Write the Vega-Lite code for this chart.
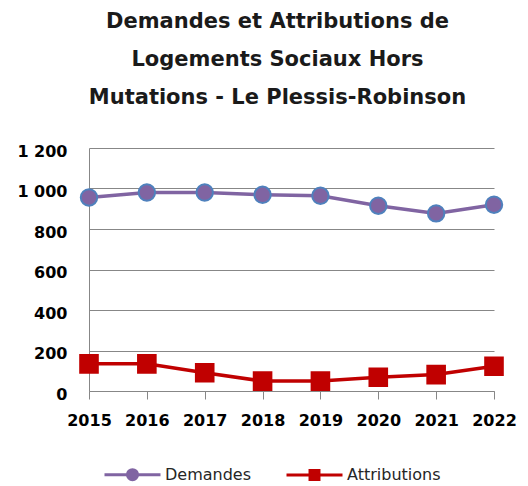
{
  "$schema": "https://vega.github.io/schema/vega-lite/v6.json",
  "width": 405,
  "height": 243,
  "autosize": {"type": "none"},
  "padding": {"left": 89, "top": 148, "right": 34, "bottom": 95},
  "background": "white",
  "title": {
    "text": ["Demandes et Attributions de", "Logements Sociaux Hors", "Mutations - Le Plessis-Robinson"],
    "font": "DejaVu Sans",
    "fontSize": 21,
    "fontWeight": "bold",
    "color": "#1a1a1a",
    "lineHeight": 38,
    "anchor": "middle",
    "dx": -14,
    "offset": 35
  },
  "data": {
    "values": [
      {"annee": "2015", "serie": "Demandes", "valeur": 956},
      {"annee": "2016", "serie": "Demandes", "valeur": 980},
      {"annee": "2017", "serie": "Demandes", "valeur": 980},
      {"annee": "2018", "serie": "Demandes", "valeur": 969},
      {"annee": "2019", "serie": "Demandes", "valeur": 964},
      {"annee": "2020", "serie": "Demandes", "valeur": 915},
      {"annee": "2021", "serie": "Demandes", "valeur": 877},
      {"annee": "2022", "serie": "Demandes", "valeur": 920},
      {"annee": "2015", "serie": "Attributions", "valeur": 134},
      {"annee": "2016", "serie": "Attributions", "valeur": 134},
      {"annee": "2017", "serie": "Attributions", "valeur": 90},
      {"annee": "2018", "serie": "Attributions", "valeur": 49},
      {"annee": "2019", "serie": "Attributions", "valeur": 49},
      {"annee": "2020", "serie": "Attributions", "valeur": 68},
      {"annee": "2021", "serie": "Attributions", "valeur": 81},
      {"annee": "2022", "serie": "Attributions", "valeur": 122}
    ]
  },
  "encoding": {
    "x": {
      "field": "annee",
      "type": "ordinal",
      "scale": {"type": "point", "padding": 0},
      "axis": {
        "title": null,
        "labelAngle": 0,
        "labelFont": "DejaVu Sans",
        "labelFontSize": 16,
        "labelFontWeight": "bold",
        "labelColor": "#000000",
        "labelPadding": 13,
        "tickSize": 8,
        "tickColor": "#878787",
        "domainColor": "#878787",
        "grid": false
      }
    },
    "y": {
      "field": "valeur",
      "type": "quantitative",
      "scale": {"domain": [0, 1200], "nice": false},
      "axis": {
        "title": null,
        "values": [0, 200, 400, 600, 800, 1000, 1200],
        "labelExpr": "replace(format(datum.value, ','), ',', ' ')",
        "labelFont": "DejaVu Sans",
        "labelFontSize": 16,
        "labelFontWeight": "bold",
        "labelColor": "#000000",
        "labelPadding": 22,
        "labelOffset": 3,
        "ticks": false,
        "domainColor": "#878787",
        "gridColor": "#878787",
        "grid": true
      }
    },
    "color": {
      "field": "serie",
      "type": "nominal",
      "scale": {"domain": ["Demandes", "Attributions"], "range": ["#8064A2", "#C00000"]},
      "legend": {
        "title": null,
        "orient": "none",
        "direction": "horizontal",
        "legendX": 14,
        "legendY": 297,
        "symbolType": "M-1,0H1M-0.18,0A0.18,0.18 0 1,1 0.18,0A0.18,0.18 0 1,1 -0.18,0Z",
        "symbolSize": 3136,
        "symbolStrokeWidth": 3,
        "labelFont": "DejaVu Sans",
        "labelFontSize": 16,
        "labelColor": "#262626",
        "labelOffset": 3,
        "columnPadding": 28,
        "encode": {
          "symbols": {
            "update": {
              "shape": {"signal": "datum.value === 'Demandes' ? 'M-1,0H1M-0.18,0A0.18,0.18 0 1,1 0.18,0A0.18,0.18 0 1,1 -0.18,0Z' : 'M-1,0H1M-0.16,-0.16H0.16V0.16H-0.16Z'"},
              "size": {"value": 3136},
              "fill": {"signal": "datum.value === 'Demandes' ? '#8064A2' : '#C00000'"},
              "stroke": {"signal": "datum.value === 'Demandes' ? '#8064A2' : '#C00000'"},
              "strokeWidth": {"value": 3},
              "opacity": {"value": 1}
            }
          }
        }
      }
    }
  },
  "layer": [
    {
      "mark": {"type": "line", "strokeWidth": 3.5}
    },
    {
      "mark": {"type": "point", "filled": true, "strokeWidth": 2, "opacity": 1},
      "encoding": {
        "shape": {"condition": {"test": "datum.serie === 'Demandes'", "value": "circle"}, "value": "square"},
        "size": {"condition": {"test": "datum.serie === 'Demandes'", "value": 270}, "value": 310},
        "stroke": {"condition": {"test": "datum.serie === 'Demandes'", "value": "#4F81BD"}, "value": "#C00000"}
      }
    }
  ],
  "config": {"view": {"stroke": null}}
}
